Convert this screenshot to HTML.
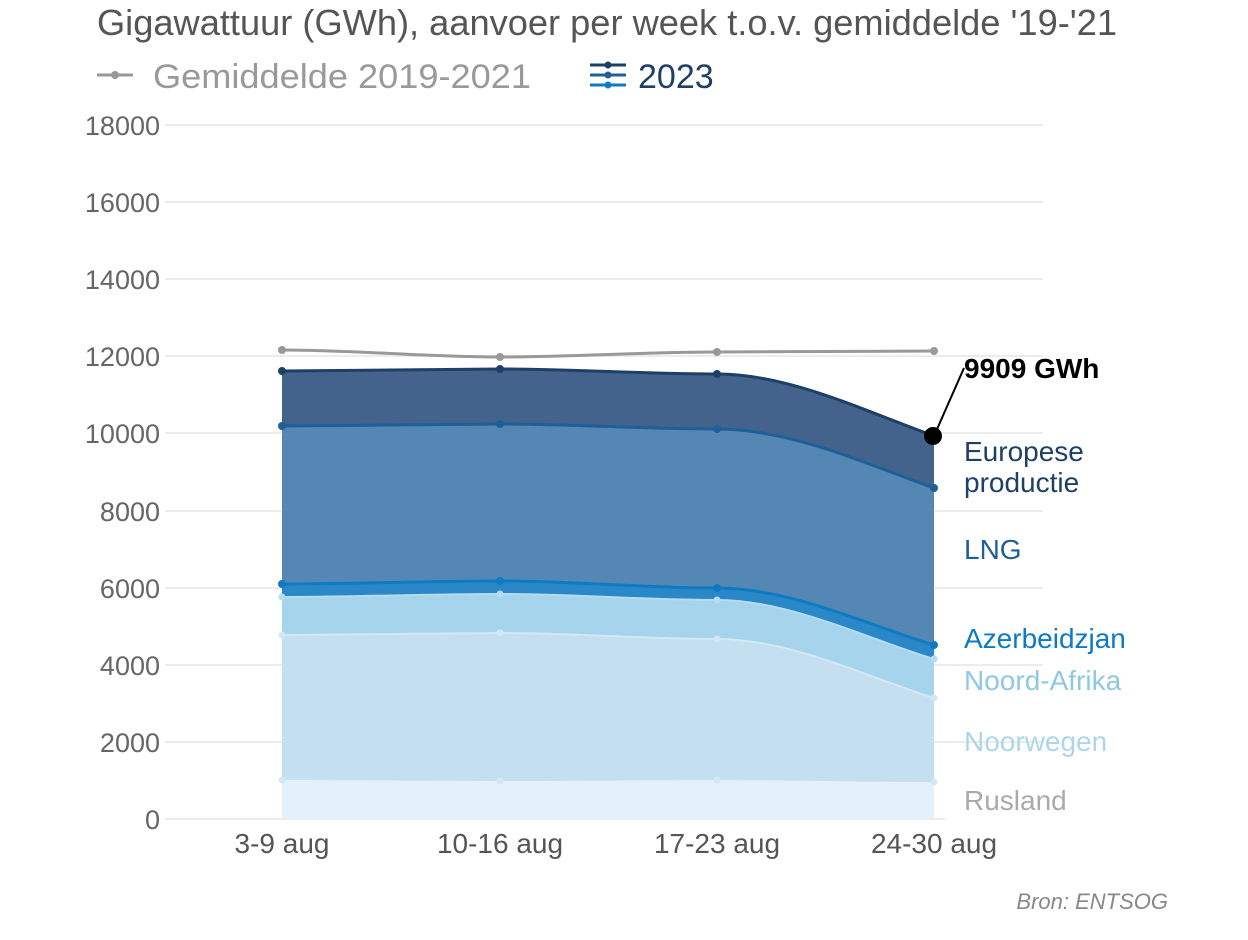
<!DOCTYPE html>
<html><head><meta charset="utf-8"><style>
html,body{margin:0;padding:0;background:#fff;}
svg{display:block;font-family:"Liberation Sans",sans-serif;}
</style></head><body>
<svg width="1248" height="940" viewBox="0 0 1248 940" xmlns="http://www.w3.org/2000/svg">
<text x="97" y="35" font-size="36" fill="#555" textLength="1020" lengthAdjust="spacingAndGlyphs">Gigawattuur (GWh), aanvoer per week t.o.v. gemiddelde '19-'21</text>
<line x1="97" y1="75" x2="133" y2="75" stroke="#999" stroke-width="3"/><circle cx="115" cy="75" r="4" fill="#999"/>
<text x="153" y="88" font-size="34" fill="#999" textLength="378" lengthAdjust="spacingAndGlyphs">Gemiddelde 2019-2021</text>
<line x1="590" y1="65" x2="626" y2="65" stroke="#1e3f66" stroke-width="3"/>
<line x1="590" y1="75" x2="626" y2="75" stroke="#1f5f97" stroke-width="3"/>
<line x1="590" y1="85" x2="626" y2="85" stroke="#0e7ac4" stroke-width="3"/>
<circle cx="608" cy="65" r="3.5" fill="#1e3f66"/><circle cx="608" cy="75" r="3.5" fill="#1f5f97"/><circle cx="608" cy="85" r="3.5" fill="#0e7ac4"/>
<text x="638" y="88" font-size="34" fill="#1e3f66">2023</text>
<g stroke="#ececec" stroke-width="2">
<line x1="165" y1="125" x2="1043" y2="125"/><line x1="165" y1="202" x2="1043" y2="202"/><line x1="165" y1="279" x2="1043" y2="279"/><line x1="165" y1="356" x2="1043" y2="356"/><line x1="165" y1="433" x2="1043" y2="433"/><line x1="165" y1="511" x2="1043" y2="511"/><line x1="165" y1="588" x2="1043" y2="588"/><line x1="165" y1="665" x2="1043" y2="665"/><line x1="165" y1="742" x2="1043" y2="742"/><line x1="165" y1="819" x2="945" y2="819"/>
</g>
<g font-size="27" fill="#666" text-anchor="end">
<text x="160" y="135">18000</text><text x="160" y="212">16000</text><text x="160" y="289">14000</text><text x="160" y="366">12000</text><text x="160" y="443">10000</text><text x="160" y="521">8000</text><text x="160" y="598">6000</text><text x="160" y="675">4000</text><text x="160" y="752">2000</text><text x="160" y="829">0</text>
</g>
<path d="M282 371 C354 371,428 369,500 369 C572 369,645 374,717 374 C789 374,862 410,934 436 L934 819 L282 819Z" fill="#44638c"/>
<path d="M282 426 C354 426,428 424,500 424 C572 424,645 429,717 429 C789 429,862 462,934 488 L934 819 L282 819Z" fill="#5487b4"/>
<path d="M282 584 C354 584,428 581,500 581 C572 581,645 588,717 588 C789 588,862 623,934 645 L934 819 L282 819Z" fill="#2a88c8"/>
<path d="M282 597 C354 597,428 594,500 594 C572 594,645 600,717 600 C789 600,862 637,934 659 L934 819 L282 819Z" fill="#a6d4ec"/>
<path d="M282 635 C354 635,428 633,500 633 C572 633,645 639,717 639 C789 639,862 675,934 698 L934 819 L282 819Z" fill="#c3dff0"/>
<path d="M282 780 C354 780,428 781,500 781 C572 781,645 780,717 780 C789 780,862 782,934 782 L934 819 L282 819Z" fill="#e3f1fa"/>
<g fill="none" stroke-width="3">
<path d="M282 371 C354 371,428 369,500 369 C572 369,645 374,717 374 C789 374,862 410,934 436" stroke="#1e3f66"/>
<path d="M282 426 C354 426,428 424,500 424 C572 424,645 429,717 429 C789 429,862 462,934 488" stroke="#1f5f97"/>
<path d="M282 584 C354 584,428 581,500 581 C572 581,645 588,717 588 C789 588,862 623,934 645" stroke="#0e7ac4"/>
<path d="M282 597 C354 597,428 594,500 594 C572 594,645 600,717 600 C789 600,862 637,934 659" stroke="#b5dcef" stroke-width="2"/>
<path d="M282 635 C354 635,428 633,500 633 C572 633,645 639,717 639 C789 639,862 675,934 698" stroke="#d3e8f4" stroke-width="2"/>
<path d="M282 350 C354 350,428 357,500 357 C572 357,645 352,717 352 C789 352,862 351,934 351" stroke="#999"/>
</g>
<g fill="#1e3f66"><circle cx="282" cy="371" r="4"/><circle cx="500" cy="369" r="4"/><circle cx="717" cy="374" r="4"/></g>
<g fill="#1f5f97"><circle cx="282" cy="426" r="4"/><circle cx="500" cy="424" r="4"/><circle cx="717" cy="429" r="4"/><circle cx="934" cy="488" r="4"/></g>
<g fill="#0e7ac4"><circle cx="282" cy="584" r="4"/><circle cx="500" cy="581" r="4"/><circle cx="717" cy="588" r="4"/><circle cx="934" cy="645" r="4"/></g>
<g fill="#b5dcef"><circle cx="282" cy="597" r="3.5"/><circle cx="500" cy="594" r="3.5"/><circle cx="717" cy="600" r="3.5"/><circle cx="934" cy="659" r="3.5"/></g>
<g fill="#d3e8f4"><circle cx="282" cy="635" r="3.5"/><circle cx="500" cy="633" r="3.5"/><circle cx="717" cy="639" r="3.5"/><circle cx="934" cy="698" r="3.5"/><circle cx="282" cy="780" r="3.5"/><circle cx="500" cy="781" r="3.5"/><circle cx="717" cy="780" r="3.5"/><circle cx="934" cy="782" r="3.5"/></g>
<g fill="#999"><circle cx="282" cy="350" r="4"/><circle cx="500" cy="357" r="4"/><circle cx="717" cy="352" r="4"/><circle cx="934" cy="351" r="4"/></g>
<line x1="934" y1="436" x2="964" y2="368" stroke="#000" stroke-width="2"/>
<circle cx="933" cy="436" r="9" fill="#000"/>
<text x="964" y="378" font-size="28" font-weight="bold" fill="#000">9909 GWh</text>
<g font-size="28">
<text x="964" y="461" fill="#1e3f66">Europese</text><text x="964" y="492" fill="#1e3f66">productie</text>
<text x="964" y="559" fill="#1f5f97">LNG</text>
<text x="964" y="648" fill="#0e7ac4">Azerbeidzjan</text>
<text x="964" y="690" fill="#8ec8e6">Noord-Afrika</text>
<text x="964" y="751" fill="#add6ea">Noorwegen</text>
<text x="964" y="810" fill="#aaa">Rusland</text>
</g>
<g font-size="28" fill="#555" text-anchor="middle">
<text x="282" y="853">3-9 aug</text><text x="500" y="853">10-16 aug</text><text x="717" y="853">17-23 aug</text><text x="934" y="853">24-30 aug</text>
</g>
<text x="1168" y="909" font-size="22" font-style="italic" fill="#888" text-anchor="end">Bron: ENTSOG</text>
</svg>
</body></html>
